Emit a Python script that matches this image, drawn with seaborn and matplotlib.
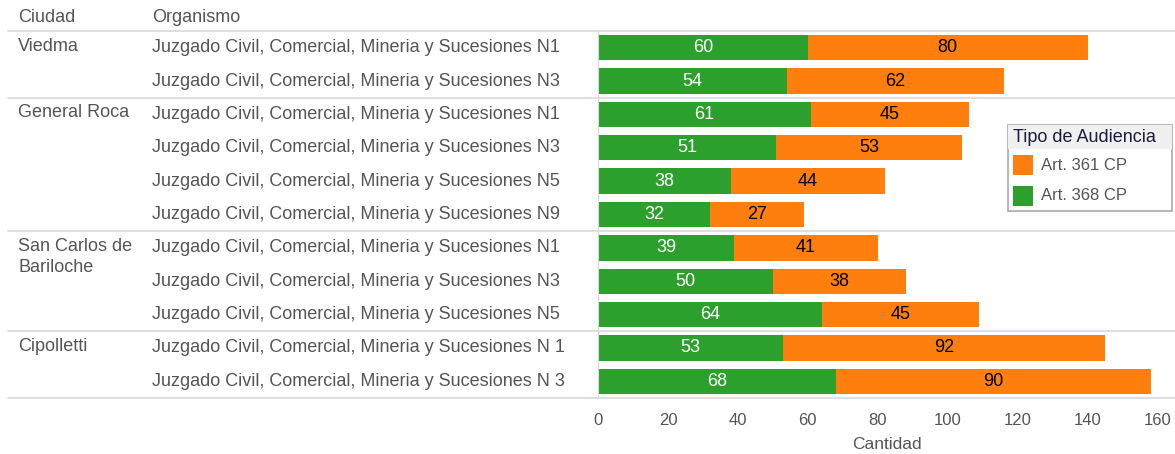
import numpy as np
import pandas as pd
import seaborn as sns
import matplotlib.pyplot as plt
import matplotlib.transforms as mtransforms
from matplotlib.patches import Rectangle

sns.set_style('white')
plt.rcParams['font.family'] = ['Liberation Sans', 'DejaVu Sans']

# datos
ciudades = ['Viedma', 'Viedma', 'General Roca', 'General Roca', 'General Roca', 'General Roca',
            'San Carlos de\nBariloche', 'San Carlos de\nBariloche', 'San Carlos de\nBariloche',
            'Cipolletti', 'Cipolletti']
organismos = ['Juzgado Civil, Comercial, Mineria y Sucesiones N1',
              'Juzgado Civil, Comercial, Mineria y Sucesiones N3',
              'Juzgado Civil, Comercial, Mineria y Sucesiones N1',
              'Juzgado Civil, Comercial, Mineria y Sucesiones N3',
              'Juzgado Civil, Comercial, Mineria y Sucesiones N5',
              'Juzgado Civil, Comercial, Mineria y Sucesiones N9',
              'Juzgado Civil, Comercial, Mineria y Sucesiones N1',
              'Juzgado Civil, Comercial, Mineria y Sucesiones N3',
              'Juzgado Civil, Comercial, Mineria y Sucesiones N5',
              'Juzgado Civil, Comercial, Mineria y Sucesiones N 1',
              'Juzgado Civil, Comercial, Mineria y Sucesiones N 3']
art368 = [60, 54, 61, 51, 38, 32, 39, 50, 64, 53, 68]
art361 = [80, 62, 45, 53, 44, 27, 41, 38, 45, 92, 90]
xticks = [0, 20, 40, 60, 80, 100, 120, 140, 160]

c_green = '#2ca02c'
c_orange = '#ff7f0e'
c_text = '#555555'
c_line = '#d9d9d9'
fs = 13

df = pd.DataFrame({'fila': [str(i) for i in range(len(art368))],
                   'verde': art368, 'naranja': art361})
df['total'] = df['verde'] + df['naranja']

fig = plt.figure(figsize=(11.75, 4.54), dpi=100)
ax = fig.add_axes([598 / 1175, 1 - 398 / 454, (1175 - 598) / 1175, (398 - 31) / 454])

sns.barplot(data=df, y='fila', x='total', color=c_orange, orient='h', width=0.76,
            saturation=1, linewidth=0, ax=ax)
sns.barplot(data=df, y='fila', x='verde', color=c_green, orient='h', width=0.76,
            saturation=1, linewidth=0, ax=ax)

ax.set_xlim(0, 165)
ax.set_ylim(len(df) - 0.5, -0.5)
ax.set_xticks(xticks)
ax.set_xticklabels([str(t) for t in xticks], color=c_text, fontsize=12)
ax.tick_params(axis='x', length=5, color=c_line, pad=6)
ax.set_yticks([])
ax.set_ylabel('')
ax.set_xlabel('Cantidad', color=c_text, fontsize=12.5, labelpad=6)
for s in ['top', 'right']:
    ax.spines[s].set_visible(False)
ax.spines['left'].set_color(c_line)
ax.spines['bottom'].set_visible(False)

# etiquetas de valores
for i, (v, n) in enumerate(zip(art368, art361)):
    ax.text(v / 2, i, str(v), ha='center', va='center', color='white', fontsize=fs)
    ax.text(v + n / 2, i, str(n), ha='center', va='center', color='black', fontsize=fs)

# columnas de texto a la izquierda
tr = mtransforms.blended_transform_factory(fig.transFigure, ax.transData)
prev = None
for i, (c, o) in enumerate(zip(ciudades, organismos)):
    ax.text(152 / 1175, i, o, transform=tr, ha='left', va='center', color=c_text,
            fontsize=fs, clip_on=False)
    if c != prev:
        ax.text(18 / 1175, i - 0.3, c, transform=tr, ha='left', va='top', color=c_text,
                fontsize=fs, clip_on=False, linespacing=1.35)
        prev = c

# separadores de grupos
for yb in [-0.5, 1.5, 5.5, 8.5, 10.5]:
    ax.plot([8 / 1175, 1.0], [yb, yb], transform=tr, color=c_line, lw=1.2, clip_on=False)

fig.text(18 / 1175, 1 - 18 / 454, 'Ciudad', ha='left', va='center', color=c_text, fontsize=fs)
fig.text(152 / 1175, 1 - 18 / 454, 'Organismo', ha='left', va='center', color=c_text, fontsize=fs)

# leyenda
lx0, ly0, lw, lh = 1008, 125, 164, 86
fig.patches.append(Rectangle((lx0 / 1175, 1 - (ly0 + lh) / 454), lw / 1175, lh / 454,
                             transform=fig.transFigure, facecolor='white', edgecolor='#aaaaaa',
                             lw=1.2, zorder=5))
fig.patches.append(Rectangle((lx0 / 1175, 1 - (ly0 + 24) / 454), lw / 1175, 24 / 454,
                             transform=fig.transFigure, facecolor='#f0f0f0', edgecolor='none',
                             zorder=6))
fig.text((lx0 + 5) / 1175, 1 - (ly0 + 13) / 454, 'Tipo de Audiencia', ha='left', va='center',
         color='#1c1c3c', fontsize=fs, zorder=7)
for k, (lab, col) in enumerate([('Art. 361 CP', c_orange), ('Art. 368 CP', c_green)]):
    yc = ly0 + 40 + k * 31
    fig.patches.append(Rectangle(((lx0 + 5) / 1175, 1 - (yc + 10) / 454), 20 / 1175, 20 / 454,
                                 transform=fig.transFigure, facecolor=col, edgecolor='none',
                                 zorder=7))
    fig.text((lx0 + 33) / 1175, 1 - yc / 454, lab, ha='left', va='center', color=c_text,
             fontsize=12, zorder=7)

fig.savefig('out.png', dpi=100)
